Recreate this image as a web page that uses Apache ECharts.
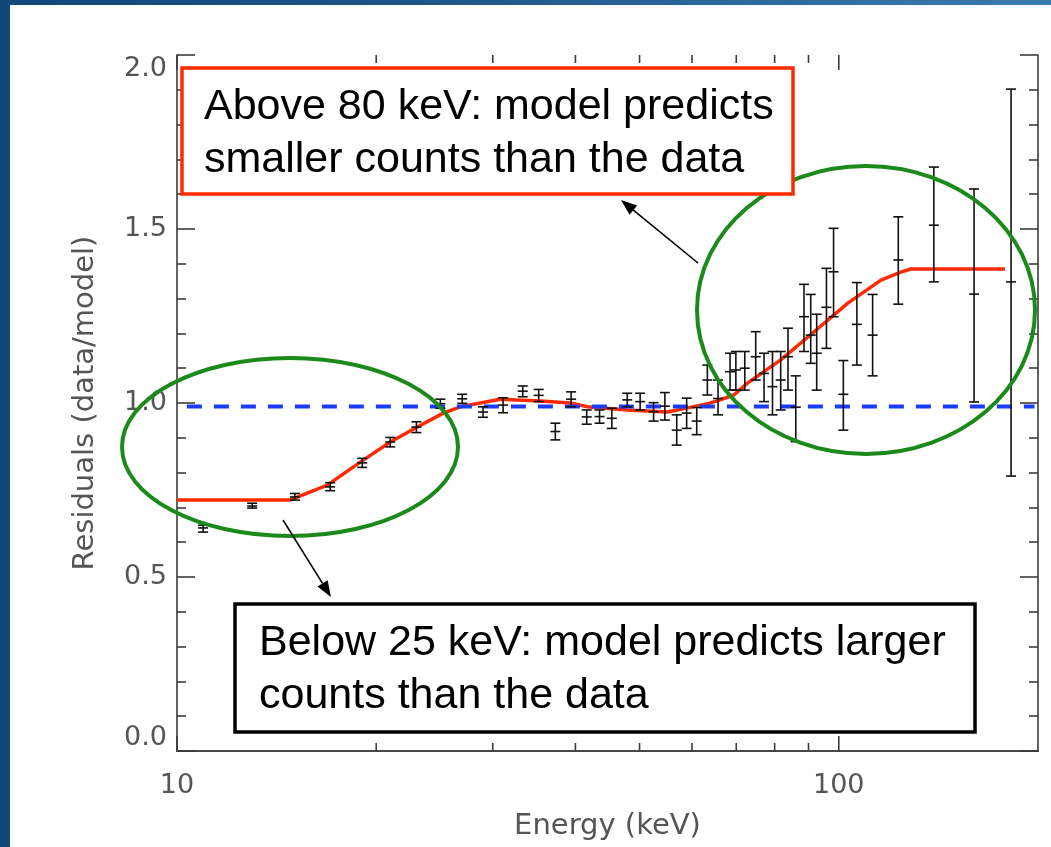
<!DOCTYPE html>
<html><head><meta charset="utf-8">
<script src="https://cdn.jsdelivr.net/npm/echarts@6/dist/echarts.min.js"></script>
<style>
html,body{margin:0;padding:0;width:1051px;height:847px;overflow:hidden;}
body{background:linear-gradient(90deg,#124879 0%,#1a5384 35%,#2d6c9f 75%,#3a7bad 100%);}
#panel{position:absolute;left:10px;top:5px;right:0;bottom:0;background:#ffffff;}
#chart{position:absolute;left:0;top:0;width:1051px;height:847px;}
</style></head><body><div id="panel"></div><div id="chart"></div>
<script>
// ---- data ----
const obsEnergy = [10.95,12.99,15.07,17.04,19.05,21.0,23.0,25.0,26.98,29.0,31.1,33.3,35.2,37.3,39.4,41.6,43.5,45.4,47.9,50.1,52.5,54.6,56.9,58.9,61.0,63.3,65.7,68.5,69.9,72.1,74.9,77.1,79.4,81.7,83.8,86.1,88.6,90.7,92.6,95.8,98.2,101.6,106.5,112.5,123.0,139.2,160.1,182.1];
const obsRatio  = [0.641,0.704,0.730,0.759,0.828,0.888,0.931,0.998,1.012,0.974,0.994,1.034,1.022,0.918,1.011,0.960,0.961,0.956,1.009,1.004,0.975,0.991,0.922,0.971,0.948,1.066,1.013,1.090,1.095,1.100,1.133,1.085,1.047,1.066,1.133,0.988,1.248,1.195,1.143,1.275,1.377,1.025,1.226,1.195,1.411,1.511,1.313,1.348];
const obsLow    = [0.629,0.698,0.721,0.748,0.815,0.874,0.915,0.985,0.999,0.959,0.972,1.018,1.004,0.894,0.989,0.939,0.942,0.927,0.989,0.980,0.948,0.951,0.879,0.927,0.909,1.023,0.966,1.037,1.037,1.037,1.066,1.004,0.966,0.980,1.037,0.889,1.148,1.114,1.037,1.157,1.248,0.922,1.109,1.078,1.284,1.348,1.003,0.790];
const obsHigh   = [0.649,0.712,0.740,0.771,0.841,0.901,0.946,1.011,1.025,0.989,1.015,1.049,1.039,0.942,1.032,0.980,0.980,0.985,1.028,1.028,1.001,1.030,0.966,1.014,0.987,1.109,1.066,1.143,1.148,1.148,1.205,1.143,1.148,1.148,1.215,1.078,1.341,1.312,1.255,1.387,1.502,1.122,1.346,1.312,1.535,1.678,1.615,1.902];

const modelEnergy = [10.0,14.8,16.87,18.92,21.0,23.08,25.26,26.8,30.8,35.4,39.3,41.7,47.9,55.1,59.1,63.4,65.5,69.4,72.8,81.7,91.7,103.2,115.8,124.1,128.5,178.3];
const modelRatio  = [0.721,0.721,0.764,0.830,0.888,0.931,0.971,0.989,1.011,1.006,1.000,0.989,0.980,0.974,0.986,0.998,1.006,1.023,1.057,1.124,1.204,1.287,1.353,1.376,1.385,1.385];

const refEnergy = [10.35,197.6];
const refRatio  = [0.99,0.99];

const xTickValues = [10,20,30,40,50,60,70,80,90,100];
const xMajorTicks = [10,100];
const xLabelValues = [10,100];
const yTickLabels = ['0.0','0.5','1.0','1.5','2.0'];

// ---- chart ----
const axisColor = '#3c3c3c';
const labelColor = '#555555';
const labelFont = "'DejaVu Sans ExtraLight','DejaVu Sans',sans-serif";
const boxFont = "'Liberation Sans',Arial,sans-serif";

const obsData = obsEnergy.map((e,i)=>[e,obsRatio[i],obsLow[i],obsHigh[i]]);
const modelData = modelEnergy.map((e,i)=>[e,modelRatio[i]]);
const refData = refEnergy.map((e,i)=>[e,refRatio[i]]);
const tickData = xTickValues.map(v=>[v, xMajorTicks.indexOf(v)>=0 ? 1 : 0]);

function arrow(x1,y1,x2,y2){
  const ang = Math.atan2(y2-y1,x2-x1);
  const L = 16, W = 6;
  const bx = x2 - L*Math.cos(ang), by = y2 - L*Math.sin(ang);
  const px = -Math.sin(ang)*W, py = Math.cos(ang)*W;
  return [
    {type:'line', z:100, shape:{x1:x1,y1:y1,x2:bx,y2:by}, style:{stroke:'#000',lineWidth:1.6}},
    {type:'polygon', z:100, shape:{points:[[x2,y2],[bx+px,by+py],[bx-px,by-py]]}, style:{fill:'#000'}}
  ];
}

const chart = echarts.init(document.getElementById('chart'), null, {renderer:'canvas'});
const axisLineStyle = {color:axisColor, width:1.6};
const option = {
  animation:false,
  backgroundColor:'transparent',
  grid:{left:177, top:55, right:13, bottom:96},
  xAxis:[
    {type:'log', logBase:10, min:10, max:200, position:'bottom',
     name:'Energy (keV)', nameLocation:'middle', nameGap:61,
     nameTextStyle:{fontFamily:labelFont, fontSize:29, color:labelColor},
     axisLine:{show:true, lineStyle:axisLineStyle}, axisTick:{show:false}, splitLine:{show:false},
     axisLabel:{margin:21, fontFamily:labelFont, fontSize:27, color:labelColor,
       formatter:v=> xLabelValues.some(t=>Math.abs(t-v)<1e-6) ? String(Math.round(v)) : ''}},
    {type:'log', logBase:10, min:10, max:200, position:'top',
     axisLine:{show:true, lineStyle:axisLineStyle}, axisTick:{show:false}, splitLine:{show:false},
     axisLabel:{show:false}}
  ],
  yAxis:[
    {type:'value', min:0, max:2, interval:0.5, position:'left',
     name:'Residuals (data/model)', nameLocation:'middle', nameGap:77,
     nameTextStyle:{fontFamily:labelFont, fontSize:29, color:labelColor},
     axisLine:{show:true, lineStyle:axisLineStyle},
     axisTick:{show:true, inside:true, length:18, lineStyle:axisLineStyle},
     minorTick:{show:true, splitNumber:5, length:9, lineStyle:axisLineStyle},
     splitLine:{show:false}, minorSplitLine:{show:false},
     axisLabel:{margin:10, fontFamily:labelFont, fontSize:27, color:labelColor,
       verticalAlignMinLabel:'bottom', verticalAlignMaxLabel:'top',
       formatter:v=> yTickLabels[Math.round(v*2)] || ''}},
    {type:'value', min:0, max:2, interval:0.5, position:'right',
     axisLine:{show:true, lineStyle:axisLineStyle},
     axisTick:{show:true, inside:true, length:18, lineStyle:axisLineStyle},
     minorTick:{show:true, splitNumber:5, length:9, lineStyle:axisLineStyle},
     splitLine:{show:false}, axisLabel:{show:false}}
  ],
  series:[
    {type:'custom', name:'xticks', silent:true, xAxisIndex:0, yAxisIndex:0, clip:false,
     data:tickData, encode:{x:0},
     renderItem:(params,api)=>{
       const cs = params.coordSys;
       const x = api.coord([api.value(0),1])[0];
       const len = api.value(1) ? 15 : 8;
       const yb = cs.y+cs.height, yt = cs.y;
       const st = {stroke:axisColor, lineWidth:1.6};
       return {type:'group', children:[
         {type:'line', shape:{x1:x,y1:yb,x2:x,y2:yb-len}, style:st},
         {type:'line', shape:{x1:x,y1:yt,x2:x,y2:yt+len}, style:st}
       ]};
     }},
    {type:'line', name:'model', data:modelData, symbol:'none', z:3,
     lineStyle:{color:'#ff2a00', width:3.5}},
    {type:'line', name:'unity', data:refData, symbol:'none', z:4,
     lineStyle:{color:'#1a3cff', width:4, type:[15,12]}},
    {type:'custom', name:'data', data:obsData, encode:{x:0, y:[1,2,3]}, z:5,
     renderItem:(params,api)=>{
       const e = api.value(0);
       const pm = api.coord([e,api.value(1)]);
       const pl = api.coord([e,api.value(2)]);
       const ph = api.coord([e,api.value(3)]);
       const w = 5;
       const st = {stroke:'#111', lineWidth:1.6};
       return {type:'group', children:[
         {type:'line', shape:{x1:pl[0],y1:pl[1],x2:ph[0],y2:ph[1]}, style:st},
         {type:'line', shape:{x1:pl[0]-w,y1:pl[1],x2:pl[0]+w,y2:pl[1]}, style:st},
         {type:'line', shape:{x1:ph[0]-w,y1:ph[1],x2:ph[0]+w,y2:ph[1]}, style:st},
         {type:'line', shape:{x1:pm[0]-w,y1:pm[1],x2:pm[0]+w,y2:pm[1]}, style:st}
       ]};
     }}
  ],
  graphic:[
    {type:'ellipse', z:100, shape:{cx:290, cy:447, rx:168, ry:89}, style:{fill:'none', stroke:'#1b8a1b', lineWidth:4}},
    {type:'ellipse', z:100, shape:{cx:866, cy:310, rx:169, ry:144}, style:{fill:'none', stroke:'#1b8a1b', lineWidth:4}},
    {type:'rect', z:100, shape:{x:182, y:68, width:611, height:126}, style:{fill:'#fff', stroke:'#ff2a00', lineWidth:3.5}},
    {type:'text', z:101, x:204, y:107, style:{text:'Above 80 keV: model predicts', font:"43px "+boxFont, fill:'#000', verticalAlign:'middle'}},
    {type:'text', z:101, x:204, y:160, style:{text:'smaller counts than the data', font:"43px "+boxFont, fill:'#000', verticalAlign:'middle'}},
    {type:'rect', z:100, shape:{x:235, y:604, width:740, height:128}, style:{fill:'#fff', stroke:'#000', lineWidth:3.5}},
    {type:'text', z:101, x:259, y:643, style:{text:'Below 25 keV: model predicts larger', font:"43px "+boxFont, fill:'#000', verticalAlign:'middle'}},
    {type:'text', z:101, x:259, y:696, style:{text:'counts than the data', font:"43px "+boxFont, fill:'#000', verticalAlign:'middle'}}
  ].concat(arrow(698,263,621,200), arrow(283,520,331,597))
};
chart.setOption(option);
</script>
</body></html>
